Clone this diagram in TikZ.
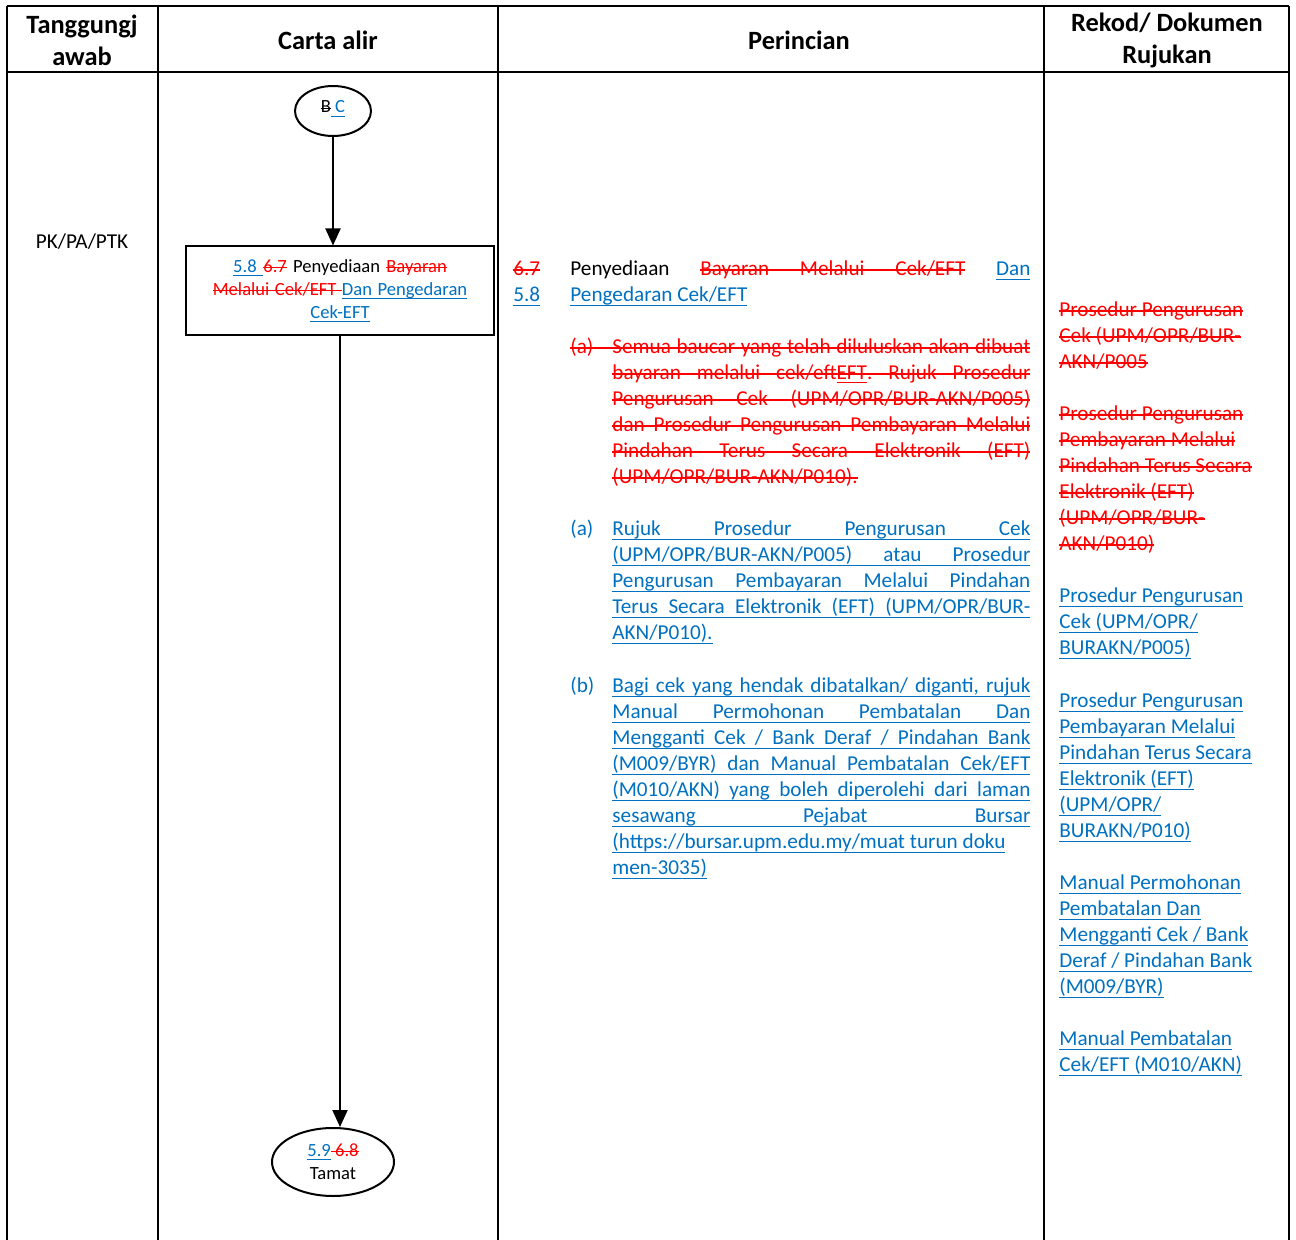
\documentclass[tikz,border=0pt]{standalone}
\usepackage{fontspec}
\setmainfont{Carlito}
\usepackage{xcolor}
\usetikzlibrary{shapes.geometric,arrows.meta}

\definecolor{biru}{HTML}{0070C0}
\definecolor{merah}{HTML}{FF0000}
\newcommand{\isi}{\fontsize{10.6}{13}\selectfont}
\newcommand{\kecil}{\fontsize{9.3}{11.5}\selectfont}

% garis bawah / garis potong, kata demi kata
\newdimen\garisH
\newdimen\garisD
\newcommand{\gkata}[1]{\setbox0=\hbox{#1}\rlap{\vrule height\garisH depth\garisD width\wd0}\box0}
\newcommand{\gspasi}{\leaders\hrule height\garisH depth\garisD
  \hskip\fontdimen2\font plus\fontdimen3\font minus\fontdimen4\font\relax}
\def\gproses#1 #2\gtamat{\gkata{#1}%
  \if\relax\detokenize{#2}\relax\else\gspasi\gproses#2\gtamat\fi}
\newcommand{\coret}[1]{\leavevmode{\garisH=0.29em\garisD=-0.24em\gproses#1 \gtamat}}
\newcommand{\baru}[1]{\leavevmode{\color{biru}\garisH=-0.14em\garisD=0.19em\gproses#1 \gtamat}}
\newcommand{\padam}[1]{\leavevmode{\color{merah}\coret{#1}}}

\begin{document}
\begin{tikzpicture}[x=0.5pt,y=-0.5pt,
  garis/.style={line width=1pt},
  kepala/.style={
    font=\fontsize{13.2}{16}\selectfont\bfseries,
    align=center
  },
  para/.style={
    anchor=north west,
    inner sep=0pt,
    text width=209pt,
    align=justify,
    font=\isi
  },
  rujuk/.style={
    anchor=north west,
    inner sep=0pt,
    text width=110pt,
    align=left,
    font=\isi
  },
  kotak/.style={
    draw,
    line width=1pt,
    minimum width=154pt,
    minimum height=44.5pt,
    inner sep=0pt,
    text width=150pt,
    align=center,
    font=\kecil
  },
  bujur/.style={
    draw,
    ellipse,
    line width=1pt,
    inner sep=0pt,
    align=center,
    font=\kecil
  },
  anak/.style={-{Triangle[length=8.5pt,width=7.5pt]}, line width=1pt}]
  \useasboundingbox (0,0) rectangle (1296,1240);

  % jadual
  \draw[garis] (7,6) -- (1289,6);
  \draw[garis] (7,72) -- (1289,72);
  \foreach \x in {7,158,498,1044,1289}
    \draw[garis] (\x,6) -- (\x,1240);

  \node[kepala] (hTang) at (82,40) {Tanggungj\\awab};
  \node[kepala] (hCarta) at (328,40) {Carta alir};
  \node[kepala] (hPerinci) at (799,40) {Perincian};
  \node[kepala] (hRekod) at (1167,40) {Rekod/ Dokumen\\Rujukan};

  \node[font=\isi] (pelaku) at (82,242) {PK/PA/PTK};

  % carta alir
  \node[bujur, minimum width=38pt, minimum height=25pt] (mula) at (333,111)
    {\raisebox{-1pt}[0pt][0pt]{\coret{B}\baru{ C}}};
  \node[kotak] (sedia) at (340,291)
    {\noindent\baru{5.8 }\padam{6.7} Penyediaan \padam{Bayaran}\\
     \padam{Melalui Cek/EFT }\baru{Dan Pengedaran}\\
     \baru{Cek-EFT}};
  \node[bujur, minimum width=61pt, minimum height=34pt] (tamat) at (333,1162)
    {\baru{5.9}\padam{ 6.8}\\Tamat};

  \draw[anak] (mula) -- (mula |- sedia.north);
  \draw[anak] (sedia) -- (sedia |- tamat.north);

  % perincian
  \node[rujuk, text width=26pt] (noLama) at (513,257)
    {\noindent\strut\padam{6.7}\\\baru{5.8}};
  \node[para, text width=230pt] (tajuk) at (570,257)
    {\noindent\strut Penyediaan \padam{Bayaran Melalui Cek/EFT} \baru{Dan}\linebreak
     \baru{Pengedaran Cek/EFT}};

  \node[rujuk, text width=21pt] (labLama) at (570,335)
    {\noindent\strut\padam{{\makebox[21pt][l]{(a)}}}};
  \node[para] (itemLama) at (612,335)
    {\noindent\strut
     \padam{Semua baucar yang telah diluluskan akan dibuat}\linebreak
     \padam{bayaran melalui cek/eft{\underline{EFT}}. Rujuk Prosedur}\linebreak
     \padam{Pengurusan Cek (UPM/OPR/BUR-AKN/P005)}\linebreak
     \padam{dan Prosedur Pengurusan Pembayaran Melalui}\linebreak
     \padam{Pindahan Terus Secara Elektronik (EFT)}\linebreak
     \padam{(UPM/OPR/BUR-AKN/P010).}};

  \node[rujuk, text width=21pt, text=biru] (labA) at (570,517)
    {\noindent\strut(a)};
  \node[para] (itemA) at (612,517)
    {\noindent\strut
     \baru{Rujuk Prosedur Pengurusan Cek}\linebreak
     \baru{(UPM/OPR/BUR-AKN/P005) atau Prosedur}\linebreak
     \baru{Pengurusan Pembayaran Melalui Pindahan}\linebreak
     \baru{Terus Secara Elektronik (EFT) (UPM/OPR/BUR-}\linebreak
     \baru{AKN/P010).}};

  \node[rujuk, text width=21pt, text=biru] (labB) at (570,674)
    {\noindent\strut(b)};
  \node[para] (itemB) at (612,674)
    {\noindent\strut
     \baru{Bagi cek yang hendak dibatalkan/ diganti, rujuk}\linebreak
     \baru{Manual Permohonan Pembatalan Dan}\linebreak
     \baru{Mengganti Cek / Bank Deraf / Pindahan Bank}\linebreak
     \baru{(M009/BYR) dan Manual Pembatalan Cek/EFT}\linebreak
     \baru{(M010/AKN) yang boleh diperolehi dari laman}\linebreak
     \baru{sesawang Pejabat Bursar}\linebreak
     \baru{(https://bursar.upm.edu.my/muat turun doku}\newline
     \baru{men-3035)}};

  % rekod / dokumen rujukan
  \node[rujuk] (rujLama1) at (1059,298)
    {\noindent\strut\padam{Prosedur Pengurusan}\\\padam{Cek (UPM/OPR/BUR-}\\\padam{AKN/P005}};
  \node[rujuk] (rujLama2) at (1059,402)
    {\noindent\strut\padam{Prosedur Pengurusan}\\\padam{Pembayaran Melalui}\\
     \padam{Pindahan Terus Secara}\\\padam{Elektronik (EFT)}\\
     \padam{(UPM/OPR/BUR-}\\\padam{AKN/P010)}};
  \node[rujuk] (rujCek) at (1059,584)
    {\noindent\strut\baru{Prosedur Pengurusan}\\\baru{Cek (UPM/OPR/}\\\baru{BURAKN/P005)}};
  \node[rujuk] (rujEft) at (1059,689)
    {\noindent\strut\baru{Prosedur Pengurusan}\\\baru{Pembayaran Melalui}\\
     \baru{Pindahan Terus Secara}\\\baru{Elektronik (EFT)}\\
     \baru{(UPM/OPR/}\\\baru{BURAKN/P010)}};
  \node[rujuk] (rujM009) at (1059,871)
    {\noindent\strut\baru{Manual Permohonan}\\\baru{Pembatalan Dan}\\
     \baru{Mengganti Cek / Bank}\\\baru{Deraf / Pindahan Bank}\\
     \baru{(M009/BYR)}};
  \node[rujuk] (rujM010) at (1059,1027)
    {\noindent\strut\baru{Manual Pembatalan}\\\baru{Cek/EFT (M010/AKN)}};
\end{tikzpicture}
\end{document}
